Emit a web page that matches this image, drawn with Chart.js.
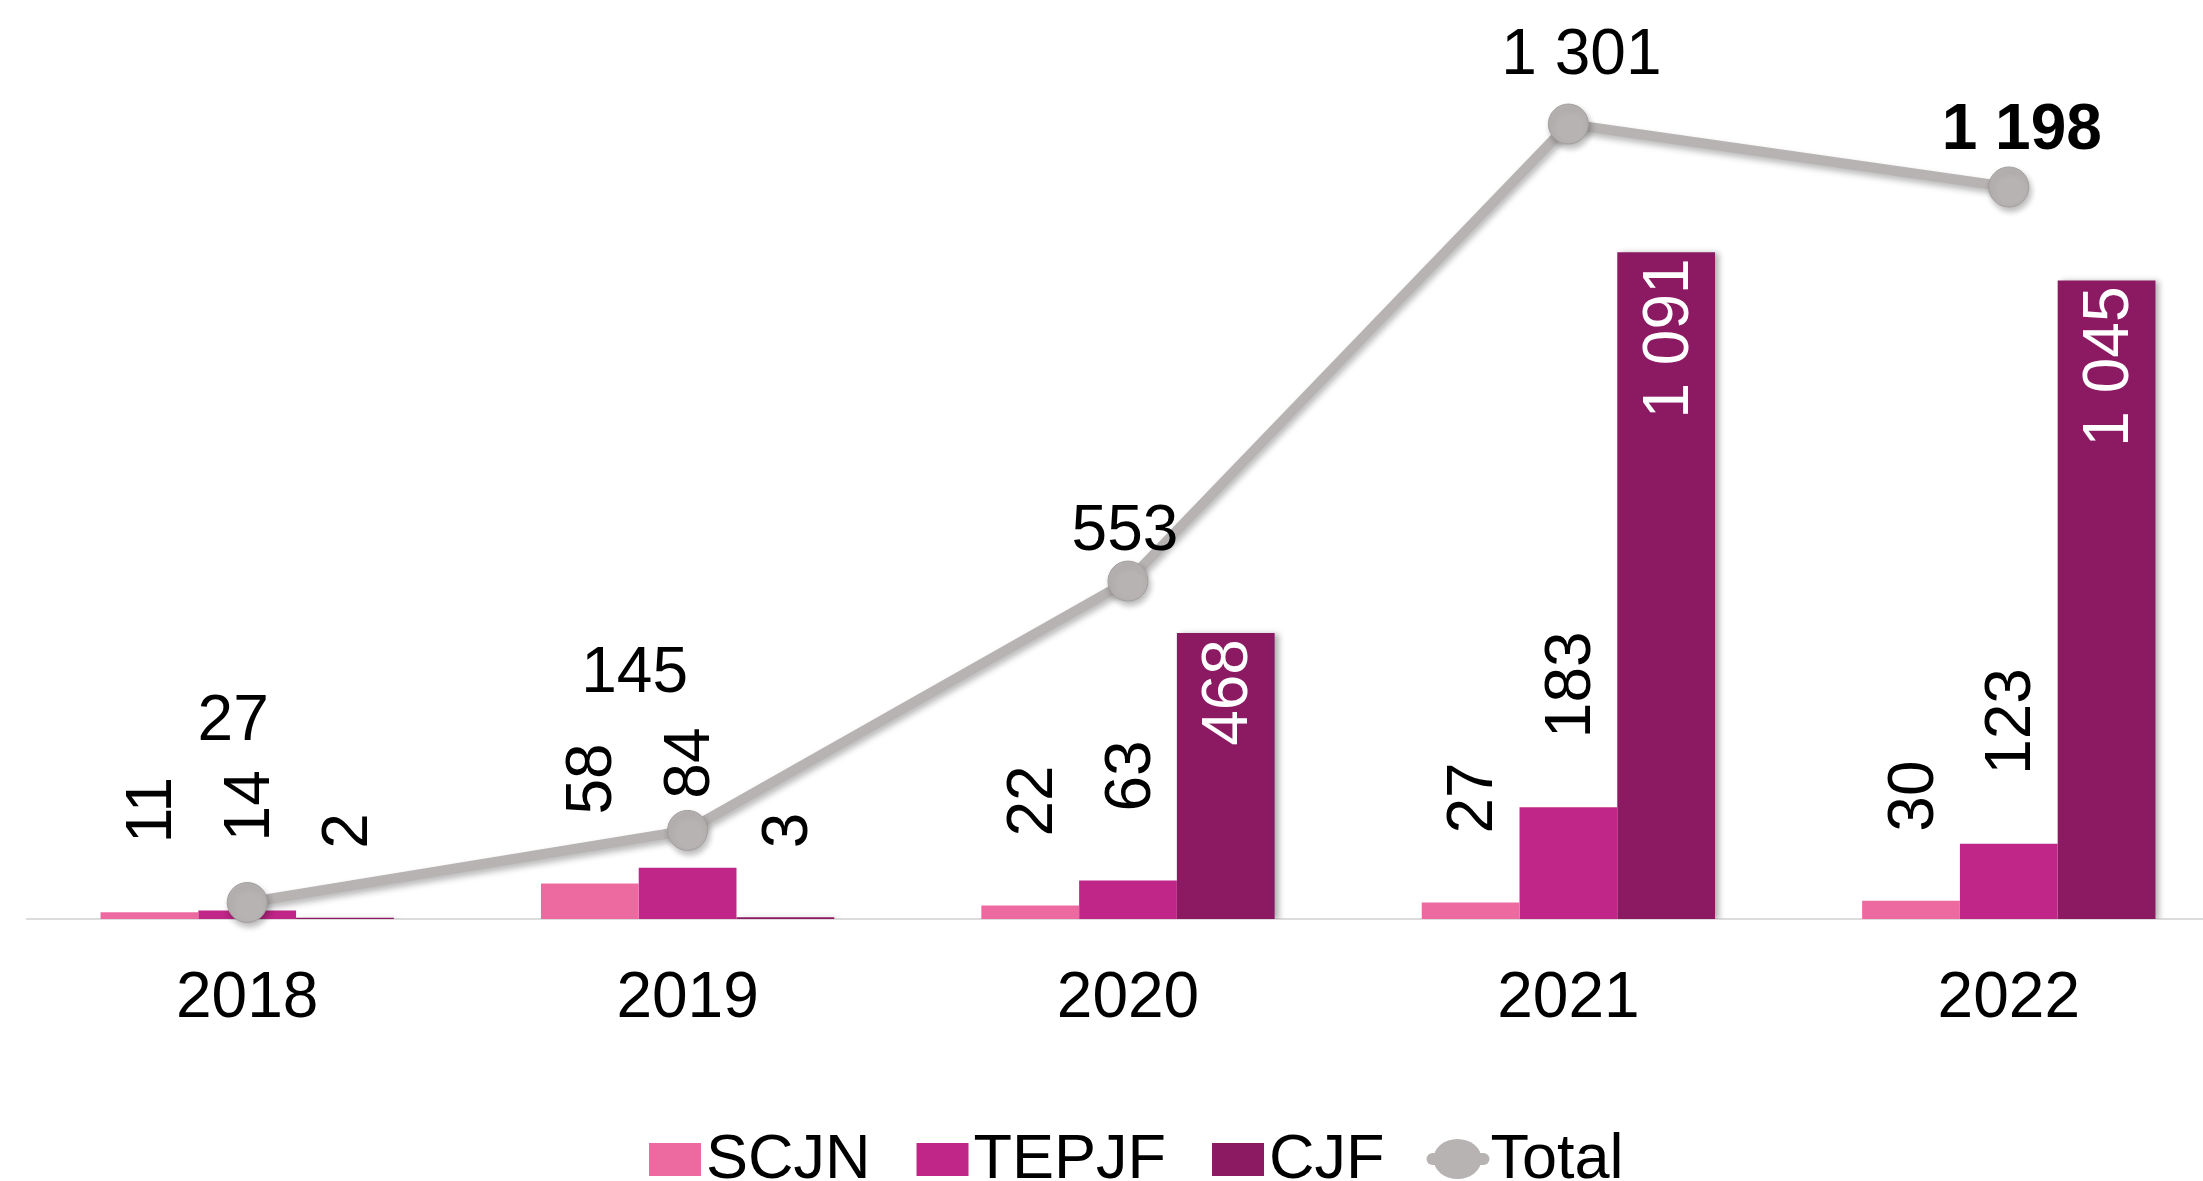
<!DOCTYPE html>
<html>
<head>
<meta charset="utf-8">
<script src="https://cdn.jsdelivr.net/npm/chart.js@4.4.1/dist/chart.umd.min.js"></script>
<style>
  html, body { margin: 0; padding: 0; background: #fff; overflow: hidden; }
  #wrap { width: 2203px; height: 1181px; overflow: hidden; position: relative; }
  #chart { position: absolute; left: 0; top: 0; }
</style>
</head>
<body>
<div id="wrap"><canvas id="chart" width="2250" height="1181"></canvas></div>
<script>
const anios = ['2018', '2019', '2020', '2021', '2022'];
const scjn = [11, 58, 22, 27, 30];
const tepjf = [14, 84, 63, 183, 123];
const cjf = [2, 3, 468, 1091, 1045];
const total = [27, 145, 553, 1301, 1198];

const FONT = "'Liberation Sans', Arial, sans-serif";
const colores = { scjn: '#EC6AA0', tepjf: '#C02687', cjf: '#8B1A63', total: '#B8B3B3' };

// desplazamiento de las etiquetas del total respecto al punto
const offsetsTotal = [[-14, -180], [-53, -156], [-3, -49], [13, -68], [13, -56]];

function fmt(v) {
  return String(v).replace(/\B(?=(\d{3})+(?!\d))/g, ' ');
}

const sombras = {
  id: 'sombras',
  beforeDatasetDraw(chart, args) {
    const ctx = chart.ctx;
    if (args.index === 0) {
      ctx.save();
      ctx.shadowColor = 'rgba(0,0,0,0.28)';
      ctx.shadowBlur = 6;
      ctx.shadowOffsetX = 2;
      ctx.shadowOffsetY = 4;
    } else if (args.index === 3) {
      ctx.save();
      ctx.shadowColor = 'rgba(0,0,0,0.3)';
      ctx.shadowBlur = 6;
      ctx.shadowOffsetX = 4;
      ctx.shadowOffsetY = 1;
    }
  },
  afterDatasetDraw(chart, args) {
    if (args.index === 0 || args.index === 3) chart.ctx.restore();
  }
};

const etiquetas = {
  id: 'etiquetas',
  afterDatasetsDraw(chart) {
    const ctx = chart.ctx;
    ctx.save();
    ctx.font = '64px ' + FONT;
    ctx.textBaseline = 'middle';
    [1, 2, 3].forEach(di => {
      const meta = chart.getDatasetMeta(di);
      meta.data.forEach((bar, i) => {
        const text = fmt(chart.data.datasets[di].data[i]);
        const w = ctx.measureText(text).width;
        const h = bar.base - bar.y;
        ctx.save();
        ctx.translate(bar.x, bar.y);
        ctx.rotate(-Math.PI / 2);
        if (h > w + 20) {
          ctx.fillStyle = '#fff';
          ctx.textAlign = 'right';
          ctx.fillText(text, -6, 4);
        } else {
          ctx.fillStyle = '#000';
          ctx.textAlign = 'left';
          ctx.fillText(text, 69, 4);
        }
        ctx.restore();
      });
    });

    // etiquetas del total
    const lineMeta = chart.getDatasetMeta(0);
    ctx.textAlign = 'center';
    ctx.fillStyle = '#000';
    lineMeta.data.forEach((pt, i) => {
      const last = i === lineMeta.data.length - 1;
      ctx.font = (last ? 'bold ' : '') + '64px ' + FONT;
      const [dx, dy] = offsetsTotal[i];
      ctx.fillText(fmt(total[i]), pt.x + dx, pt.y + dy);
    });
    ctx.restore();
  },
  afterDraw(chart) {
    // leyenda
    const ctx = chart.ctx;
    ctx.save();
    ctx.font = '63px ' + FONT;
    ctx.textBaseline = 'alphabetic';
    ctx.fillStyle = '#000';
    const baseY = 1178;
    const cy = 1159;
    let x = 649;
    const items = [['SCJN', colores.scjn], ['TEPJF', colores.tepjf], ['CJF', colores.cjf]];
    items.forEach(([name, color]) => {
      ctx.fillStyle = color;
      ctx.fillRect(x, 1143, 52, 33);
      x += 52 + 5;
      ctx.fillStyle = '#000';
      ctx.fillText(name, x, baseY);
      x += ctx.measureText(name).width + 46;
    });
    x -= 4;
    ctx.strokeStyle = colores.total;
    ctx.lineWidth = 12;
    ctx.lineCap = 'round';
    ctx.beginPath();
    ctx.moveTo(x + 6, cy);
    ctx.lineTo(x + 57, cy);
    ctx.stroke();
    ctx.fillStyle = colores.total;
    ctx.beginPath();
    ctx.ellipse(x + 31, cy, 24, 20, 0, 0, Math.PI * 2);
    ctx.fill();
    ctx.fillStyle = '#000';
    ctx.fillText('Total', x + 64, baseY);
    ctx.restore();
  }
};

new Chart(document.getElementById('chart'), {
  data: {
    labels: anios,
    datasets: [
      {
        type: 'line',
        label: 'Total',
        data: total,
        borderColor: colores.total,
        backgroundColor: colores.total,
        borderWidth: 10,
        pointRadius: 20,
        pointBackgroundColor: colores.total,
        pointBorderColor: '#A39E9E',
        pointBorderWidth: 1,
        tension: 0,
        clip: false
      },
      { type: 'bar', label: 'SCJN', data: scjn, backgroundColor: colores.scjn },
      { type: 'bar', label: 'TEPJF', data: tepjf, backgroundColor: colores.tepjf },
      { type: 'bar', label: 'CJF', data: cjf, backgroundColor: colores.cjf }
    ]
  },
  options: {
    responsive: false,
    animation: false,
    events: [],
    layout: { padding: { left: 27, right: 3, top: 33, bottom: 0 } },
    datasets: { bar: { barPercentage: 1, categoryPercentage: 0.666 } },
    plugins: { legend: { display: false }, tooltip: { enabled: false }, title: { display: false } },
    scales: {
      x: {
        grid: { display: false },
        border: { display: true, color: '#DCDCDC', width: 2 },
        ticks: { color: '#000', font: { family: FONT, size: 64 }, padding: 34 },
        afterFit(scale) { scale.height = 262; }
      },
      y: { display: false, min: 0, max: 1450 }
    }
  },
  plugins: [sombras, etiquetas]
});
</script>
</body>
</html>
